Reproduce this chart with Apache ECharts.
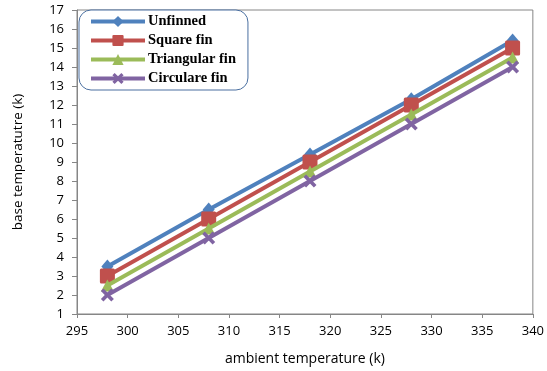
<!DOCTYPE html>
<html>
<head>
<meta charset="utf-8">
<script src="https://cdn.jsdelivr.net/npm/echarts@6/dist/echarts.min.js"></script>
<style>
html,body{margin:0;padding:0;background:#fff;}
#c{width:547px;height:371px;}
</style>
</head>
<body>
<div id="c"></div>
<script>
const ambient = [298, 308, 318, 328, 338];
const unfinned = [3.5, 6.5, 9.4, 12.3, 15.4];
const squareFin = [3.0, 6.0, 9.0, 12.0, 15.0];
const triangularFin = [2.5, 5.5, 8.5, 11.5, 14.5];
const circulareFin = [2.0, 5.0, 8.0, 11.0, 14.0];
const seriesNames = ['Unfinned', 'Square fin', 'Triangular fin', 'Circulare fin'];

const colors = ['#4F81BD', '#C0504D', '#9BBB59', '#8064A2'];
const xPath = 'path://M0,2 L2,0 L5,3 L8,0 L10,2 L7,5 L10,8 L8,10 L5,7 L2,10 L0,8 L3,5 Z';
const symbols = ['diamond', 'path://M1,0 L9,0 Q10,0 10,1 L10,9 Q10,10 9,10 L1,10 Q0,10 0,9 L0,1 Q0,0 1,0 Z', 'triangle', xPath];
const sizes = [[12, 14], 15, [13, 12], 13];
const allData = [unfinned, squareFin, triangularFin, circulareFin];

const chart = echarts.init(document.getElementById('c'), null, {renderer: 'canvas'});
const tickFont = {fontFamily: 'Open Sans', fontSize: 13, color: '#000'};
chart.setOption({
  animation: false,
  color: colors,
  grid: {left: 77, right: 10, top: 10, bottom: 57, show: true, borderColor: '#868686', borderWidth: 1},
  xAxis: {
    type: 'value', min: 295, max: 340, interval: 5,
    name: 'ambient temperature (k)', nameLocation: 'middle', nameGap: 38,
    nameTextStyle: {fontFamily: 'Open Sans', fontSize: 14, color: '#000'},
    axisLine: {show: true, lineStyle: {color: '#868686'}},
    axisTick: {show: true, inside: false, length: 4, lineStyle: {color: '#868686'}},
    axisLabel: Object.assign({margin: 11}, tickFont),
    splitLine: {show: false}
  },
  yAxis: {
    type: 'value', min: 1, max: 17, interval: 1,
    name: 'base temperatutre (k)', nameLocation: 'middle', nameGap: 52,
    nameTextStyle: {fontFamily: 'Open Sans', fontSize: 13.5, color: '#000'},
    axisLine: {show: true, lineStyle: {color: '#868686'}},
    axisTick: {show: true, inside: false, length: 5, lineStyle: {color: '#868686'}},
    axisLabel: Object.assign({margin: 13}, tickFont),
    splitLine: {show: false}
  },
  legend: {
    orient: 'vertical', left: 79, top: 10,
    padding: [4, 12, 4, 10],
    itemGap: 4, itemWidth: 54, itemHeight: 14,
    borderColor: '#4A6FA0', borderWidth: 1, borderRadius: 12,
    backgroundColor: '#fff',
    lineStyle: {width: 4},
    textStyle: {fontFamily: 'Liberation Serif', fontWeight: 'bold', fontSize: 14.5, color: '#000', padding: [0, 0, 0, -2]},
    data: seriesNames
  },
  series: seriesNames.map((n, i) => ({
    name: n, type: 'line',
    data: ambient.map((x, j) => [x, allData[i][j]]),
    symbol: symbols[i], symbolSize: sizes[i],
    lineStyle: {width: 4, color: colors[i]},
    itemStyle: {color: colors[i], borderWidth: 0},
    z: 2 + i
  }))
});
</script>
</body>
</html>
